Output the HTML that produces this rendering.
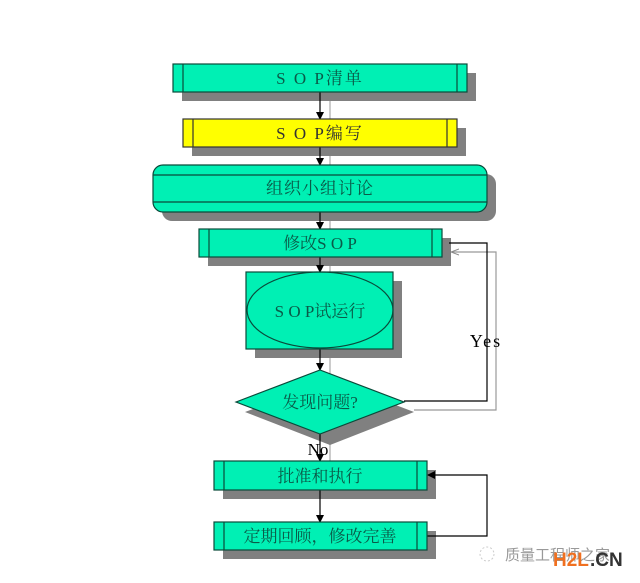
<!DOCTYPE html>
<html><head><meta charset="utf-8"><style>
html,body{margin:0;padding:0;background:#fff;}
svg{display:block;}
.s{font-family:"Liberation Serif","Noto Serif CJK SC","Noto Sans CJK SC",serif;}
.w{font-family:"Liberation Sans","Noto Sans CJK SC",sans-serif;}
</style></head><body>
<svg width="640" height="583" viewBox="0 0 640 583" xmlns="http://www.w3.org/2000/svg">
<defs>
<marker id="a" markerWidth="8" markerHeight="8" refX="7" refY="4" orient="auto" markerUnits="userSpaceOnUse"><path d="M0,0 L8,4 L0,8z" fill="#000"/></marker>
<marker id="g" markerWidth="8" markerHeight="8" refX="7" refY="4" orient="auto" markerUnits="userSpaceOnUse"><path d="M0,1 L8,4 L0,7" fill="none" stroke="#888"/></marker>
</defs>
<g stroke="#aaa" stroke-width="1.2" fill="none">
<line x1="330" y1="92" x2="330" y2="128"/>
<line x1="330" y1="147" x2="330" y2="174"/>
<line x1="330" y1="212" x2="330" y2="238"/>
<line x1="330" y1="257" x2="330" y2="281"/>
<line x1="330" y1="349" x2="330" y2="375"/>
<line x1="330" y1="434" x2="330" y2="470"/>
</g>
<g fill="#808080">
<rect x="182" y="73" width="294" height="28"/>
<rect x="192" y="128" width="274" height="28"/>
<rect x="162" y="174" width="334" height="47" rx="10"/>
<rect x="208" y="238" width="243" height="28"/>
<rect x="255" y="281" width="147" height="77"/>
<polygon points="245,412 330,380 414,412 330,445"/>
<rect x="223" y="470" width="213" height="29"/>
<rect x="223" y="531" width="213" height="28"/>
</g>
<polyline points="414,410 496,410 496,252 452,252" fill="none" stroke="#999" stroke-width="1.2" marker-end="url(#g)"/>
<g stroke="#000" stroke-width="1.2" fill="none">
<line x1="320" y1="92" x2="320" y2="119" marker-end="url(#a)"/>
<line x1="320" y1="147" x2="320" y2="165" marker-end="url(#a)"/>
<line x1="320" y1="212" x2="320" y2="229" marker-end="url(#a)"/>
<line x1="320" y1="257" x2="320" y2="272" marker-end="url(#a)"/>
<line x1="320" y1="349" x2="320" y2="370" marker-end="url(#a)"/>
<line x1="320" y1="434" x2="320" y2="461" marker-end="url(#a)"/>
<line x1="320" y1="490" x2="320" y2="522" marker-end="url(#a)"/>
<polyline points="404,401 487,401 487,243 449,243"/>
<polyline points="427,536 487,536 487,475 428,475" marker-end="url(#a)"/>
</g>
<g stroke="#0a4a3a" stroke-width="1.2" fill="#00f0b4">
<rect x="173" y="64" width="294" height="28"/>
<line x1="183" y1="64" x2="183" y2="92"/><line x1="457" y1="64" x2="457" y2="92"/>
<rect x="183" y="119" width="274" height="28" fill="#ffff00" stroke="#333"/>
<line x1="193" y1="119" x2="193" y2="147" stroke="#333"/><line x1="447" y1="119" x2="447" y2="147" stroke="#333"/>
<rect x="153" y="165" width="334" height="47" rx="10"/>
<line x1="153" y1="175" x2="487" y2="175"/><line x1="153" y1="202" x2="487" y2="202"/>
<rect x="199" y="229" width="243" height="28"/>
<line x1="209" y1="229" x2="209" y2="257"/><line x1="432" y1="229" x2="432" y2="257"/>
<rect x="246" y="272" width="147" height="77"/>
<ellipse cx="320" cy="310" rx="73" ry="38" fill="none"/>
<polygon points="236,402 320,370 404,402 320,434"/>
<rect x="214" y="461" width="213" height="29"/>
<line x1="224" y1="461" x2="224" y2="490"/><line x1="417" y1="461" x2="417" y2="490"/>
<rect x="214" y="522" width="213" height="28"/>
<line x1="224" y1="522" x2="224" y2="550"/><line x1="417" y1="522" x2="417" y2="550"/>
</g>
<g class="s" fill="#0a5a48" font-size="17" text-anchor="middle">
<text x="320" y="84" letter-spacing="2">S O P清单</text>
<text x="320" y="139" letter-spacing="2" fill="#333">S O P编写</text>
<text x="320" y="194" letter-spacing="1">组织小组讨论</text>
<text x="320" y="249">修改S O P</text>
<text x="320" y="317">S O P试运行</text>
<text x="320" y="408">发现问题?</text>
<text x="320" y="482">批准和执行</text>
<text x="320" y="542">定期回顾，修改完善</text>
</g>
<text class="s" x="486" y="347" font-size="18" text-anchor="middle" fill="#000" letter-spacing="2">Yes</text>
<text class="s" x="318" y="455" font-size="17" text-anchor="middle" fill="#000">No</text>
<circle cx="487" cy="554" r="7" fill="none" stroke="#ccc" stroke-dasharray="2,2"/>
<text class="w" x="505" y="560" font-size="15" fill="#999">质量工程师之家</text>
<text class="w" x="553" y="566" font-size="19" font-weight="bold" fill="#f07020">H2L</text>
<text class="w" x="590" y="566" font-size="19" font-weight="bold" fill="#333">.CN</text>
</svg>
</body></html>
